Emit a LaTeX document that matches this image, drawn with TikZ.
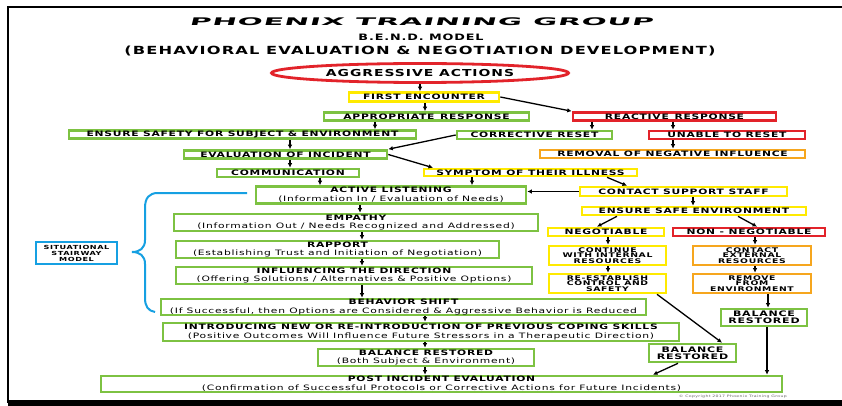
\documentclass[tikz,border=0pt]{standalone}
\usepackage{fontspec}
\newfontfamily\bendfont[FakeStretch=1.45,LetterSpace=10]{DejaVu Sans}
\newfontfamily\logofont[FakeStretch=2.8,FakeSlant=0.25,LetterSpace=8]{DejaVu Sans}
\usetikzlibrary{arrows.meta,shapes.geometric}
\tikzset{>={Latex[length=4.5pt,width=4.5pt]}}
\usepackage{xcolor}
\definecolor{bendgreen}{RGB}{125,194,66}
\definecolor{bendyellow}{RGB}{255,234,0}
\definecolor{bendred}{RGB}{226,35,42}
\definecolor{bendorange}{RGB}{246,166,30}
\definecolor{bendblue}{RGB}{22,160,226}
\tikzstyle{box}=[draw,line width=2.6pt,fill=white,inner sep=0pt,align=center,font=\bendfont\fontsize{7.4}{8.6}\selectfont\bfseries]
\tikzstyle{greenbox}=[box,draw=bendgreen]
\tikzstyle{yellowbox}=[box,draw=bendyellow]
\tikzstyle{redbox}=[box,draw=bendred]
\tikzstyle{orangebox}=[box,draw=bendorange]
\tikzstyle{stackbox}=[font=\bendfont\fontsize{6.4}{5.6}\selectfont\bfseries]
\tikzstyle{pairbox}=[font=\bendfont\fontsize{7.6}{7.4}\selectfont\bfseries]
\tikzstyle{flow}=[->,line width=1.3pt]
\newcommand{\sub}[1]{{\mdseries #1}}

\begin{document}
\begin{tikzpicture}[x=1pt,y=-1pt]
\fill[white] (0,0) rectangle (842,406);
\useasboundingbox (0,0) rectangle (842,406);
% frame
\draw[line width=1.5pt] (842,7) -- (8,7) -- (8,403);
\draw[line width=6pt] (8,403) -- (842,403);

% heading
\node[font=\logofont\fontsize{10.5}{11}\selectfont\bfseries] (logo) at (421,22) {PHOENIX TRAINING GROUP};
\node[font=\bendfont\fontsize{8.8}{9}\selectfont\bfseries] (model) at (421,37) {B.E.N.D. MODEL};
\node[font=\bendfont\fontsize{11.2}{12}\selectfont\bfseries] (bendname) at (420,51) {(BEHAVIORAL EVALUATION \& NEGOTIATION DEVELOPMENT)};

% top of the chart
\node[ellipse,draw=bendred,line width=2.8pt,minimum width=297,minimum height=19,inner sep=0pt,font=\bendfont\fontsize{9.6}{10}\selectfont\bfseries] (aggr) at (420,73) {AGGRESSIVE ACTIONS};
\node[yellowbox,minimum width=150,minimum height=9] (first) at (424,97) {FIRST ENCOUNTER};
\node[greenbox,minimum width=205,minimum height=8] (approp) at (426.5,116.5) {APPROPRIATE\, RESPONSE};
\node[redbox,minimum width=203,minimum height=8] (react) at (674.5,116.5) {REACTIVE\, RESPONSE};
\node[greenbox,minimum width=347,minimum height=8] (ensure) at (242.5,134.5) {ENSURE SAFETY FOR SUBJECT \& ENVIRONMENT};
\node[greenbox,minimum width=155,minimum height=8] (corr) at (534.5,135) {CORRECTIVE RESET};
\node[redbox,minimum width=156,minimum height=8] (unable) at (727,135) {UNABLE TO RESET};
\node[greenbox,minimum width=203,minimum height=8] (eval) at (285.5,154.5) {EVALUATION OF INCIDENT};
\node[orangebox,minimum width=265,minimum height=8] (removal) at (672.5,154) {REMOVAL OF NEGATIVE INFLUENCE};
\node[greenbox,minimum width=142,minimum height=8] (comm) at (288,173) {COMMUNICATION};
\node[yellowbox,minimum width=213,minimum height=7] (symptom) at (530.5,172.5) {SYMPTOM OF THEIR ILLNESS};
\node[yellowbox,minimum width=207,minimum height=9] (contact) at (683.5,191.5) {CONTACT SUPPORT STAFF};
\node[yellowbox,minimum width=224,minimum height=8] (safeenv) at (694,211) {ENSURE SAFE ENVIRONMENT};

% stairway
\node[greenbox,minimum width=270,minimum height=17] (active) at (391,195) {ACTIVE LISTENING\\\sub{(Information In / Evaluation of Needs)}};
\node[greenbox,minimum width=364,minimum height=17] (empathy) at (356,222.5) {EMPATHY\\\sub{(Information Out / Needs Recognized and Addressed)}};
\node[greenbox,minimum width=323,minimum height=17] (rapport) at (337.5,249.5) {RAPPORT\\\sub{(Establishing Trust and Initiation of Negotiation)}};
\node[greenbox,minimum width=356,minimum height=17] (influence) at (354,275.5) {INFLUENCING THE DIRECTION\\\sub{(Offering Solutions / Alternatives \& Positive Options)}};
\node[greenbox,minimum width=485,minimum height=16] (shift) at (403.5,307) {BEHAVIOR SHIFT\\\sub{(If Successful, then Options are Considered \& Aggressive Behavior is Reduced}};
\node[greenbox,minimum width=516,minimum height=18] (intro) at (421,332) {INTRODUCING NEW OR RE-INTRODUCTION OF PREVIOUS COPING SKILLS\\\sub{(Positive Outcomes Will Influence Future Stressors in a Therapeutic Direction)}};
\node[greenbox,minimum width=216,minimum height=17] (balboth) at (426,357.5) {BALANCE RESTORED\\\sub{(Both Subject \& Environment)}};
\node[greenbox,minimum width=681,minimum height=16] (post) at (441.5,384) {POST INCIDENT EVALUATION\\\sub{(Confirmation of Successful Protocols or Corrective Actions for Future Incidents)}};

% right branch
\node[yellowbox,minimum width=116,minimum height=8] (neg) at (606,232) {NEGOTIABLE};
\node[redbox,minimum width=152,minimum height=8] (nonneg) at (749,232) {NON - NEGOTIABLE};
\node[yellowbox,stackbox,minimum width=117,minimum height=19] (internal) at (607.5,255.5) {CONTINUE\\WITH INTERNAL\\RESOURCES};
\node[orangebox,stackbox,minimum width=118,minimum height=19] (external) at (752,255.5) {CONTACT\\EXTERNAL\\RESOURCES};
\node[yellowbox,stackbox,minimum width=117,minimum height=19] (reest) at (607.5,283.5) {RE-ESTABLISH\\CONTROL AND\\SAFETY};
\node[orangebox,stackbox,minimum width=118,minimum height=19] (remove) at (752,283.5) {REMOVE\\FROM\\ENVIRONMENT};
\node[greenbox,pairbox,minimum width=86,minimum height=17] (balright) at (764,317.5) {BALANCE\\RESTORED};
\node[greenbox,pairbox,minimum width=87,minimum height=18] (balmid) at (692.5,353) {BALANCE\\RESTORED};

% situational stairway model
\node[box,draw=bendblue,minimum width=81,minimum height=22,font=\bendfont\fontsize{5.6}{6}\selectfont\bfseries] (situ) at (76.5,253) {SITUATIONAL\\STAIRWAY\\MODEL};
\draw[bendblue,line width=2pt] (247,193) -- (158,193) .. controls (149,193) and (145,198) .. (145,208) -- (145,240) .. controls (145,248) and (140,252) .. (132,252) .. controls (140,252) and (145,256) .. (145,264) -- (145,298) .. controls (145,306) and (148,311) .. (155,312);

\node[font=\bendfont\fontsize{3.2}{3.5}\selectfont,text=black!60,anchor=east,inner sep=0pt] (copy) at (787,397) {© Copyright 2017 Phoenix Training Group};

% connectors
\draw[flow] (aggr.south) -- (aggr.south |- first.north);
\draw[flow] (first.south -| 425,0) -- (approp.north -| 425,0);
\draw[flow] (first.east) -- (react.north west);
\draw[flow] (approp.south -| 375,0) -- (ensure.north -| 375,0);
\draw[flow] (react.south -| 592,0) -- (corr.north -| 592,0);
\draw[flow] (react.south -| 673,0) -- (unable.north -| 673,0);
\draw[flow] (ensure.south -| 290,0) -- (eval.north -| 290,0);
\draw[flow] (corr.west) -- (eval.north east);
\draw[flow] (unable.south -| 673,0) -- (removal.north -| 673,0);
\draw[flow] (eval.east) -- (symptom.north -| 433,0);
\draw[flow] (eval.south -| 290,0) -- (comm.north -| 290,0);
\draw[flow] (comm.south -| 320,0) -- (active.north -| 320,0);
\draw[flow] (symptom.south -| 472,0) -- (active.north -| 472,0);
\draw[flow] (symptom.south -| 607,0) -- (contact.north -| 627,0);
\draw[flow] (contact.west) -- (contact.west -| active.east);
\draw[flow] (contact.south -| 693,0) -- (safeenv.north -| 693,0);
\draw[flow] (safeenv.south -| 617,0) -- (neg.north -| 597,0);
\draw[flow] (safeenv.south -| 738,0) -- (nonneg.north -| 757,0);
\draw[flow] (neg.south -| 608,0) -- (internal.north -| 608,0);
\draw[flow] (internal.south -| 608,0) -- (reest.north -| 608,0);
\draw[flow] (nonneg.south -| 755,0) -- (external.north -| 755,0);
\draw[flow] (external.south -| 755,0) -- (remove.north -| 755,0);
\draw[flow] (remove.south -| 768,0) -- (balright.north -| 768,0);
\draw[flow] (reest.south -| 657,0) -- (balmid.north -| 722,0);
\draw[flow] (balmid.south -| 678,0) -- (post.north -| 653,0);
\draw[flow] (balright.south -| 767,0) -- (post.north -| 767,0);
\draw[flow] (active.south -| 360,0) -- (empathy.north -| 360,0);
\draw[flow] (empathy.south -| 362,0) -- (rapport.north -| 362,0);
\draw[flow] (rapport.south -| 362,0) -- (influence.north -| 362,0);
\draw[flow] (influence.south -| 362,0) -- (shift.north -| 362,0);
\draw[flow] (shift.south -| 425,0) -- (intro.north -| 425,0);
\draw[flow] (intro.south -| 425,0) -- (balboth.north -| 425,0);
\draw[flow] (balboth.south -| 425,0) -- (post.north -| 425,0);
\end{tikzpicture}
\end{document}
